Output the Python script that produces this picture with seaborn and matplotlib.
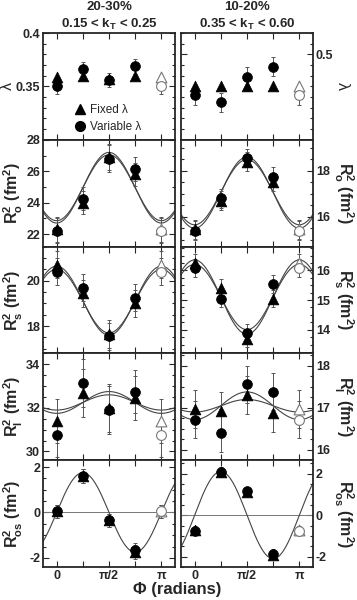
import numpy as np
import pandas as pd
import matplotlib
matplotlib.use('Agg')
import matplotlib.pyplot as plt
import seaborn as sns
from matplotlib.ticker import MultipleLocator, FixedLocator
from matplotlib.lines import Line2D

# azimuthal angles of the measured points (the point at pi is the reflected phi=0 point)
phi_pts = [0, np.pi / 4, np.pi / 2, 3 * np.pi / 4]

# ---- left column: 20-30%, 0.15 < kT < 0.25
lam_fixed_L = [0.359, 0.360, 0.357, 0.360]
lam_var_L = [0.350, 0.366, 0.356, 0.369]
lam_err_L = [0.007, 0.007, 0.007, 0.007]

ro_fixed_L = [22.3, 24.0, 26.9, 25.8]
ro_var_L = [22.2, 24.25, 26.8, 26.15]
ro_err_L = [0.8, 0.75, 0.85, 0.75]
ro_fit_L = [(24.95, -2.25), (24.95, -2.1)]

rs_fixed_L = [20.7, 19.45, 17.65, 19.0]
rs_var_L = [20.4, 19.7, 17.55, 19.25]
rs_err_L = [0.6, 0.6, 0.6, 0.6]
rs_fit_L = [(19.12, 1.52), (19.1, 1.4)]

rl_fixed_L = [31.4, 32.7, 32.0, 32.45]
rl_var_L = [30.75, 33.15, 31.9, 32.75]
rl_err_L = [1.0, 1.1, 1.1, 1.0]
rl_fit_L = [(32.25, -0.5), (32.25, -0.35)]

ros_fixed_L = [0.05, 1.6, -0.35, -1.75]
ros_var_L = [0.05, 1.6, -0.35, -1.65]
ros_err_L = [0.3, 0.3, 0.3, 0.3]
ros_fit_L = [(0.0, 1.75)]

# ---- right column: 10-20%, 0.35 < kT < 0.60
lam_fixed_R = [0.470, 0.470, 0.470, 0.470]
lam_var_R = [0.462, 0.455, 0.479, 0.4885]
lam_err_R = [0.009, 0.009, 0.009, 0.009]

ro_fixed_R = [15.45, 16.7, 18.4, 17.5]
ro_var_R = [15.4, 16.8, 18.55, 17.75]
ro_err_R = [0.4, 0.4, 0.4, 0.4]
ro_fit_R = [(17.05, -1.55), (17.07, -1.42)]

rs_fixed_R = [16.25, 15.42, 13.7, 15.05]
rs_var_R = [16.08, 15.05, 13.9, 15.53]
rs_err_R = [0.3, 0.3, 0.3, 0.3]
rs_fit_R = [(15.1, 1.25), (15.1, 1.1)]

rl_fixed_R = [16.98, 16.92, 17.3, 16.87]
rl_var_R = [16.72, 16.39, 17.56, 17.39]
rl_err_R = [0.45, 0.45, 0.45, 0.45]
rl_fit_R = [(17.05, -0.33), (17.05, -0.15)]

ros_fixed_R = [-0.7, 2.1, 1.1, -1.9]
ros_var_R = [-0.75, 2.1, 1.15, -1.85]
ros_err_R = [0.2, 0.2, 0.2, 0.2]
ros_fit_R = [(0.0, 2.1)]

titles = ['20-30%\n0.15 < k$_\\mathrm{T}$ < 0.25', '10-20%\n0.35 < k$_\\mathrm{T}$ < 0.60']
ylabels = ['λ', r'$\mathrm{R^2_o\ (fm^2)}$', r'$\mathrm{R^2_s\ (fm^2)}$',
           r'$\mathrm{R^2_l\ (fm^2)}$', r'$\mathrm{R^2_{os}\ (fm^2)}$']

sns.set_style('ticks')
plt.rcParams['font.family'] = ['Liberation Sans', 'DejaVu Sans']
plt.rcParams['font.weight'] = 'bold'
plt.rcParams['mathtext.fontset'] = 'custom'
plt.rcParams['mathtext.rm'] = 'Liberation Sans:bold'
plt.rcParams['mathtext.it'] = 'Liberation Sans:bold'
plt.rcParams['mathtext.bf'] = 'Liberation Sans:bold'

fig, axes = plt.subplots(5, 2, figsize=(3.57, 6.0), dpi=100)
fig.subplots_adjust(left=43 / 357, right=313 / 357, top=1 - 33 / 600,
                    bottom=1 - 567 / 600, hspace=0, wspace=0.045)

XMIN, XMAX = -0.41, np.pi + 0.41
phi_fine = np.linspace(XMIN, XMAX, 300)

cols = [
    dict(fixed=[lam_fixed_L, ro_fixed_L, rs_fixed_L, rl_fixed_L, ros_fixed_L],
         var=[lam_var_L, ro_var_L, rs_var_L, rl_var_L, ros_var_L],
         err=[lam_err_L, ro_err_L, rs_err_L, rl_err_L, ros_err_L],
         fits=[None, ro_fit_L, rs_fit_L, rl_fit_L, ros_fit_L],
         ylim=[(0.3, 0.4), (21.2, 28), (16.8, 21.5), (29.6, 34.5), (-2.4, 2.3)],
         yticks=[[0.35, 0.4], [22, 24, 26, 28], [18, 20], [30, 32, 34], [-2, 0, 2]],
         minor=[0.01, 1, 0.5, 0.5, 0.5]),
    dict(fixed=[lam_fixed_R, ro_fixed_R, rs_fixed_R, rl_fixed_R, ros_fixed_R],
         var=[lam_var_R, ro_var_R, rs_var_R, rl_var_R, ros_var_R],
         err=[lam_err_R, ro_err_R, rs_err_R, rl_err_R, ros_err_R],
         fits=[None, ro_fit_R, rs_fit_R, rl_fit_R, ros_fit_R],
         ylim=[(0.42, 0.52), (14.7, 19.35), (13.2, 16.8), (15.75, 18.3), (-2.5, 2.65)],
         yticks=[[0.5], [16, 18], [14, 15, 16], [16, 17, 18], [-2, 0, 2]],
         minor=[0.01, 0.5, 0.25, 0.25, 0.5]),
]

for c, col in enumerate(cols):
    for r in range(5):
        ax = axes[r, c]
        fixed, var, err = col['fixed'][r], col['var'][r], col['err'][r]

        # fit curves
        if col['fits'][r] is not None:
            for mean, amp in col['fits'][r]:
                if r == 4:
                    curve = mean + amp * np.sin(2 * phi_fine)
                else:
                    curve = mean + amp * np.cos(2 * phi_fine)
                sns.lineplot(x=phi_fine, y=curve, ax=ax, color='#444444', lw=0.8, zorder=2)
        if r == 4:
            ax.axhline(0, color='#777777', lw=0.7, zorder=1)

        xs = phi_pts + [np.pi]
        # error bars
        if r > 0:
            ax.errorbar(xs, fixed + [fixed[0]], yerr=err + [err[0]], fmt='none',
                        ecolor='#555555', elinewidth=0.7, capsize=1.5, capthick=0.7, zorder=3)
        ax.errorbar(xs, var + [var[0]], yerr=err + [err[0]], fmt='none',
                    ecolor='#555555', elinewidth=0.7, capsize=1.5, capthick=0.7, zorder=3)

        df = pd.DataFrame({'phi': phi_pts, 'fixed': fixed, 'var': var})
        sns.scatterplot(data=df, x='phi', y='fixed', marker='^', s=60, color='black',
                        edgecolor='black', linewidth=0.5, ax=ax, zorder=4)
        sns.scatterplot(data=df, x='phi', y='var', marker='o', s=50, color='black',
                        edgecolor='black', linewidth=0.5, ax=ax, zorder=5)
        # reflected open points at pi
        sns.scatterplot(x=[np.pi], y=[fixed[0]], marker='^', s=60, color='white',
                        edgecolor='#777777', linewidth=0.8, ax=ax, zorder=4)
        sns.scatterplot(x=[np.pi], y=[var[0]], marker='o', s=50, color='white',
                        edgecolor='#777777', linewidth=0.8, ax=ax, zorder=5)

        ax.set_xlim(XMIN, XMAX)
        ax.set_ylim(*col['ylim'][r])
        ax.xaxis.set_major_locator(FixedLocator([0, np.pi / 4, np.pi / 2, 3 * np.pi / 4, np.pi]))
        ax.yaxis.set_major_locator(FixedLocator(col['yticks'][r]))
        ax.yaxis.set_minor_locator(MultipleLocator(col['minor'][r]))
        ax.set_yticklabels([('%g' % t) for t in col['yticks'][r]])
        if r == 4:
            ax.set_xticklabels(['0', '', 'π/2', '', 'π'])
        else:
            ax.set_xticklabels([])
        ax.set_xlabel('')
        ax.tick_params(which='both', direction='in', top=True, bottom=True,
                       left=True, right=True, labelsize=9, width=0.8, pad=2)
        ax.tick_params(which='major', length=4)
        ax.tick_params(which='minor', length=2)
        for s in ax.spines.values():
            s.set_linewidth(1.3)

        if c == 1:
            ax.tick_params(labelleft=False, labelright=True)
            ax.yaxis.set_label_position('right')
            ax.set_ylabel(ylabels[r], fontsize=11.5, rotation=270, va='center', ha='center')
            ax.yaxis.set_label_coords(1.225 if r == 0 else 1.235, 0.5)
        else:
            ax.set_ylabel(ylabels[r], fontsize=11.5, va='center', ha='center')
            ax.yaxis.set_label_coords(-0.27 if r == 0 else -0.225, 0.5)

    axes[0, c].set_title(titles[c], fontsize=9.5, fontweight='bold', pad=4, linespacing=1.3)

handles = [Line2D([], [], marker='^', color='black', ls='none', markersize=7.5, label='Fixed λ'),
           Line2D([], [], marker='o', color='black', ls='none', markersize=7, label='Variable λ')]
axes[0, 0].legend(handles=handles, loc='lower left', bbox_to_anchor=(0.13, -0.04),
                  frameon=False, prop={'weight': 'normal', 'size': 8.5},
                  handletextpad=0.1, labelspacing=0.45, handlelength=1.5)

fig.text(0.497, 0.017, 'Φ (radians)', ha='center', va='center', fontsize=12, fontweight='bold')

fig.savefig('out.png', dpi=100)
